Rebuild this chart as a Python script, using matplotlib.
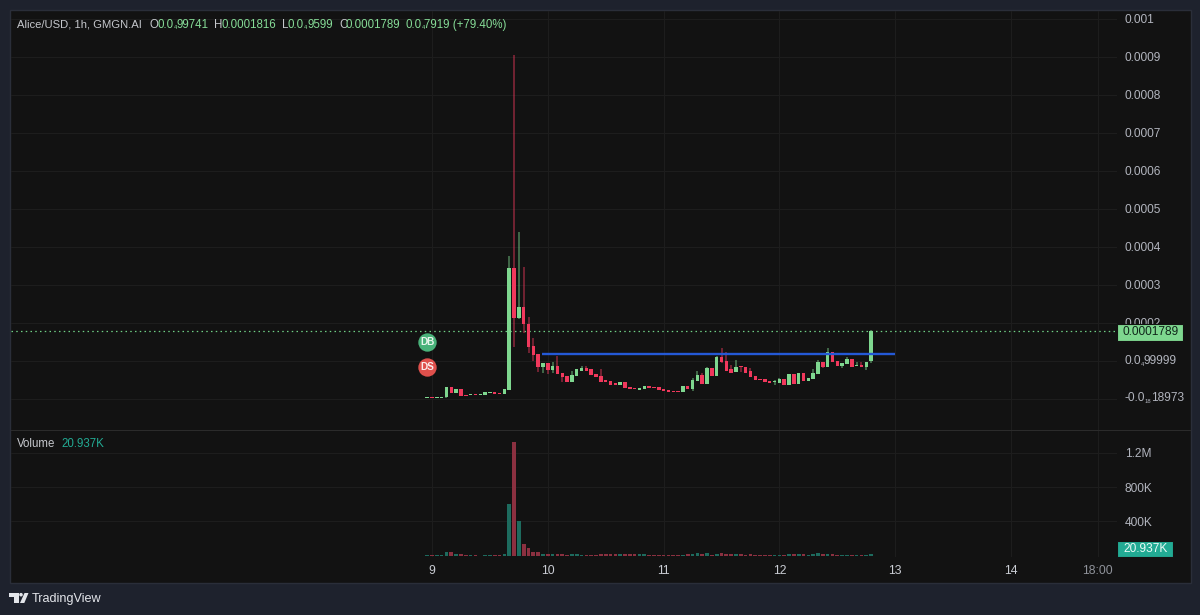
import numpy as np
import matplotlib
matplotlib.use("Agg")
import matplotlib.pyplot as plt
from matplotlib.patches import Rectangle, Polygon, Circle
from matplotlib.lines import Line2D
from matplotlib.transforms import Affine2D

plt.rcParams['font.family'] = ['Liberation Sans', 'DejaVu Sans']

# Hourly OHLC for Alice/USD, in millionths of a dollar
opens = [3.5, 5.3, 3.5, 3.5, 4.4, 31.6, 15.8, 25.4, 10.5, 10.5,
         12.3, 10.5, 11.4, 15.8, 18.4, 15.8, 14.0, 23.7, 344.8, 213.2,
         242.9, 197.4, 139.5, 118.4, 83.3, 93.8, 76.3, 86.8, 67.5, 60.5,
         44.7, 60.5, 74.5, 82.4, 78.9, 65.8, 60.5, 49.1, 47.4, 42.1,
         37.7, 45.6, 30.7, 28.9, 24.6, 25.4, 33.3, 32.4, 30.7, 25.4,
         22.8, 21.0, 21.0, 18.4, 34.2, 25.4, 47.4, 63.1, 40.3, 80.7,
         60.5, 110.5, 100.0, 78.0, 70.2, 85.9, 85.1, 73.7, 60.5, 52.6,
         53.5, 48.2, 43.9, 42.1, 53.5, 37.7, 65.8, 40.3, 68.4, 47.4,
         52.6, 64.9, 97.3, 85.1, 124.5, 100.0, 85.9, 92.1, 105.2, 86.8,
         90.3, 85.1, 99.741]
closes = [5.3, 3.5, 5.3, 6.1, 31.6, 14.9, 25.4, 8.8, 8.8, 12.3,
          10.5, 12.3, 18.4, 19.3, 14.0, 14.0, 26.3, 344.8, 213.2, 242.9,
          197.4, 136.9, 115.8, 85.0, 95.6, 76.3, 86.8, 64.9, 57.0, 44.7,
          63.1, 78.1, 82.4, 74.5, 63.1, 57.9, 44.7, 44.7, 36.8, 37.7,
          45.6, 28.1, 26.3, 25.4, 28.9, 33.3, 28.9, 28.1, 23.7, 21.0,
          18.4, 18.4, 18.4, 33.3, 26.3, 50.0, 63.1, 40.3, 80.7, 60.5,
          110.5, 96.5, 74.5, 69.3, 85.1, 83.3, 69.3, 57.9, 50.0, 50.0,
          44.7, 42.1, 46.5, 53.5, 37.7, 65.8, 40.3, 69.3, 47.4, 55.3,
          69.3, 97.3, 85.1, 124.5, 97.3, 87.7, 95.6, 106.1, 85.1, 89.5,
          85.1, 97.3, 178.9]
highs = [5.3, 5.3, 5.3, 6.1, 32.5, 32.0, 25.4, 25.4, 10.5, 12.3,
         12.3, 12.3, 18.4, 19.3, 18.4, 15.8, 26.3, 376.4, 905.4, 439.5,
         347.4, 215.8, 160.5, 118.4, 95.6, 95.6, 97.3, 113.1, 67.5, 60.5,
         73.7, 78.1, 86.8, 86.8, 78.9, 65.8, 78.1, 49.1, 47.4, 42.1,
         45.6, 45.6, 30.7, 28.9, 28.9, 33.3, 33.3, 32.4, 30.7, 25.4,
         22.8, 21.0, 21.0, 33.3, 34.2, 56.1, 73.7, 69.3, 83.3, 80.7,
         113.1, 134.2, 124.5, 89.5, 102.6, 87.7, 85.1, 80.7, 60.5, 52.6,
         53.5, 48.2, 49.1, 55.3, 53.5, 65.8, 65.8, 69.3, 68.4, 55.3,
         78.1, 102.6, 97.3, 134.2, 124.5, 100.0, 95.6, 110.5, 105.2, 97.3,
         97.3, 97.3, 181.6]
lows = [3.5, 3.5, 3.5, 3.5, 3.5, 14.5, 15.8, 8.8, 8.8, 10.5,
        10.5, 10.5, 11.4, 15.8, 14.0, 14.0, 14.0, 23.0, 136.9, 210.0,
        173.7, 121.0, 100.0, 71.9, 67.5, 65.8, 67.5, 64.9, 45.6, 44.7,
        44.7, 60.5, 74.5, 74.5, 63.1, 57.9, 44.7, 44.7, 36.8, 37.7,
        37.7, 28.1, 26.3, 25.4, 24.6, 25.4, 28.9, 28.1, 23.7, 21.0,
        18.4, 18.4, 18.4, 18.4, 26.3, 21.9, 47.4, 40.3, 40.3, 60.5,
        60.5, 93.8, 74.5, 69.3, 70.2, 70.2, 69.3, 57.9, 50.0, 50.0,
        44.7, 42.1, 37.7, 42.1, 37.7, 37.7, 40.3, 40.3, 47.4, 47.4,
        52.6, 64.9, 81.6, 85.1, 97.3, 87.7, 81.6, 92.1, 85.1, 86.8,
        85.1, 77.2, 95.99]
# Hourly volume, in thousands
volumes = [12, 12, 12, 12, 47, 47, 19, 23, 12, 12,
           12, 1, 12, 12, 12, 12, 23, 606, 1329, 408,
           136, 93, 47, 47, 23, 23, 23, 23, 23, 12,
           23, 23, 12, 12, 12, 12, 23, 15, 15, 15,
           15, 15, 15, 15, 15, 15, 12, 12, 12, 12,
           12, 12, 12, 12, 15, 20, 30, 20, 30, 12,
           20, 30, 22, 22, 22, 18, 12, 22, 12, 12,
           12, 12, 12, 12, 12, 20, 20, 20, 20, 12,
           15, 28, 20, 20, 20, 12, 12, 12, 12, 12,
           12, 12, 20.937]

last_price = 178.9
resistance_price = 118.4
day_hours = [0, 24, 48, 72, 96, 120, 138]
day_labels = ['9', '10', '11', '12', '13', '14', '18:00']
price_ticks = [1000, 900, 800, 700, 600, 500, 400, 300, 200, 100, 0]
volume_ticks = [400, 800, 1200]
volume_labels = ['400K', '800K', '1.2M']

OUTER = '#1e222d'
PANEL = '#121212'
EDGE = '#2a2e39'
GRID = '#1d1d1d'
UP = '#7ed78f'
DOWN = '#f0385c'
VOL_UP = '#1d6b5e'
VOL_DOWN = '#8b3040'
TEAL = '#22ab94'
TEXT = '#b2b5be'
BLUE = '#2459d6'

W, H = 1200, 615
fig = plt.figure(figsize=(W / 100, H / 100), dpi=100, facecolor=OUTER)
to_fig = Affine2D().scale(1 / W, -1 / H).translate(0, 1) + fig.transFigure


def label(x, y, s, color=TEXT, size=8.6, ha='left', weight='normal', zorder=5):
    return fig.text(x, y + 0.8, s, transform=to_fig, color=color, fontsize=size, ha=ha,
                    va='center', fontweight=weight, zorder=zorder)


fig.patches.append(Rectangle((10, 10), 1181, 573, transform=to_fig, facecolor=PANEL,
                             edgecolor=EDGE, linewidth=1, zorder=-1))


def axes_px(x0, y0, x1, y1):
    ax = fig.add_axes([x0 / W, 1 - y1 / H, (x1 - x0) / W, (y1 - y0) / H])
    ax.set_facecolor('none')
    ax.set_zorder(1)
    for s in ax.spines.values():
        s.set_visible(False)
    ax.tick_params(length=0)
    return ax


ax = axes_px(11, 11, 1117, 430)
vol = axes_px(11, 431, 1117, 557)

hours = np.arange(len(opens)) - 1
o, c, hi, lo = map(np.array, (opens, closes, highs, lows))
rising = c >= o
colors = np.where(rising, UP, DOWN)

ax.set_xlim((11 - 432) / 4.825, (1117 - 432) / 4.825)
ax.set_ylim(-31 / 0.38, 388 / 0.38)
ax.set_xticks(day_hours)
ax.set_yticks(price_ticks)
ax.set_xticklabels([])
ax.set_yticklabels([])
ax.grid(True, color=GRID, linewidth=0.75)
ax.set_axisbelow(True)

ax.vlines(hours, lo, hi, colors=colors, linewidth=1.1, alpha=0.55, zorder=2)
ax.bar(hours, np.maximum(np.abs(c - o), 1.5), bottom=np.minimum(o, c), width=0.72,
       color=colors, linewidth=0, zorder=3)

ax.plot([22.7, 96], [resistance_price] * 2, color=BLUE, linewidth=1.7, zorder=4,
        solid_capstyle='butt')
ax.axhline(last_price, color='#6fcf84', linewidth=0.9, linestyle=(0, (1.2, 2.6)), zorder=1.5)

# Trade markers for dev buy and dev sell
ax.scatter([-1], [149], s=175, color='#49b27a', zorder=5, linewidth=0)
ax.scatter([-1], [84], s=175, color='#df504c', zorder=5, linewidth=0)
ax.text(-1, 149, 'DB', color='#e8f5ec', fontsize=7.2, fontweight='bold', ha='center',
        va='center', zorder=6)
ax.text(-1, 84, 'DS', color='#fbeaea', fontsize=7.2, fontweight='bold', ha='center',
        va='center', zorder=6)

# Volume pane
vol.set_xlim(ax.get_xlim())
vol.set_ylim(-15, 1454)
vol.bar(hours, volumes, width=0.76, color=np.where(rising, VOL_UP, VOL_DOWN), linewidth=0,
        zorder=3)
vol.set_xticks(day_hours)
vol.set_xticklabels(day_labels)
vol.set_yticks(volume_ticks)
vol.set_yticklabels(volume_labels)
vol.yaxis.tick_right()
vol.tick_params(axis='y', pad=5.6, labelcolor=TEXT, labelsize=8.6)
vol.tick_params(axis='x', pad=5.8, labelcolor='#c9ccd3', labelsize=8.8)
vol.get_xticklabels()[-1].set_color('#8f929a')
vol.grid(True, color=GRID, linewidth=0.75)
vol.set_axisbelow(True)

fig.add_artist(Line2D([11, 1190], [430, 430], transform=to_fig, color='#2b2b2b', linewidth=0.75))

# Price scale labels
for value, text in [(1000, '0.001'), (900, '0.0009'), (800, '0.0008'), (700, '0.0007'),
                    (600, '0.0006'), (500, '0.0005'), (400, '0.0004'), (300, '0.0003')]:
    label(1124.5, 399 - value * 0.38, text)
# The 0.0002 label sits partly behind the last-price tag
label(1124.5, 399 - 200 * 0.38, '0.0002', zorder=3)
label(1124.5, 360, '0.0')
label(1141, 363.5, '4', size=4.2)
label(1143.5, 360, '99999')
label(1124.5, 397, '-0.0')
label(1145, 400.5, '18', size=4.2)
label(1151, 397, '18973')

# Last value tags on the scale
fig.patches.append(Rectangle((1117, 324), 66, 16.5, transform=to_fig, facecolor=UP,
                             edgecolor=PANEL, linewidth=0.8, zorder=4))
label(1150.5, 331.5, '0.0001789', color='#10261a', ha='center', size=8.6)
fig.patches.append(Rectangle((1117, 541), 56, 16, transform=to_fig, facecolor=TEAL,
                             edgecolor=PANEL, linewidth=0.8, zorder=4))
label(1145.5, 548.5, '20.937K', color='#eafaf6', ha='center', size=8.6)

# Legend lines
GREEN_TXT = '#86dc97'
label(17, 24, 'Alice/USD, 1h, GMGN.AI', color='#c5c7cc', size=8.1)
label(149, 24, 'O', color='#c5c7cc', size=8.3)
label(157.5, 24, '0.0', color=GREEN_TXT, size=8.3)
label(173.5, 27, '4', color=GREEN_TXT, size=4.2)
label(176.5, 24, '99741', color=GREEN_TXT, size=8.3)
label(214, 24, 'H', color='#c5c7cc', size=8.3)
label(222, 24, '0.0001816', color=GREEN_TXT, size=8.3)
label(282, 24, 'L', color='#c5c7cc', size=8.3)
label(288, 24, '0.0', color=GREEN_TXT, size=8.3)
label(304, 27, '4', color=GREEN_TXT, size=4.2)
label(307, 24, '9599', color=GREEN_TXT, size=8.3)
label(339, 24, 'C', color='#c5c7cc', size=8.3)
label(346, 24, '0.0001789', color=GREEN_TXT, size=8.3)
label(406, 24, '0.0', color=GREEN_TXT, size=8.3)
label(421.5, 27, '4', color=GREEN_TXT, size=4.2)
label(424, 24, '7919 (+79.40%)', color=GREEN_TXT, size=8.3)
label(17, 443.5, 'Volume', color='#c5c7cc', size=8.3)
label(61, 443.5, '20.937K', color=TEAL, size=8.3)

# TradingView wordmark
LOGO = '#e3e5ea'
fig.patches.append(Polygon([(9, 593), (18.5, 593), (18.5, 603), (13.5, 603), (13.5, 596.5), (9, 596.5)],
                           closed=True, transform=to_fig, facecolor=LOGO, linewidth=0, zorder=5))
fig.patches.append(Circle((21, 594.7), 1.8, transform=to_fig, facecolor=LOGO, linewidth=0, zorder=5))
fig.patches.append(Polygon([(24.5, 593), (28.5, 593), (24.3, 603), (20, 603)],
                           closed=True, transform=to_fig, facecolor=LOGO, linewidth=0, zorder=5))
label(31.5, 598.5, 'TradingView', color=LOGO, size=9.1)

fig.savefig('out.png', dpi=100, facecolor=OUTER)
